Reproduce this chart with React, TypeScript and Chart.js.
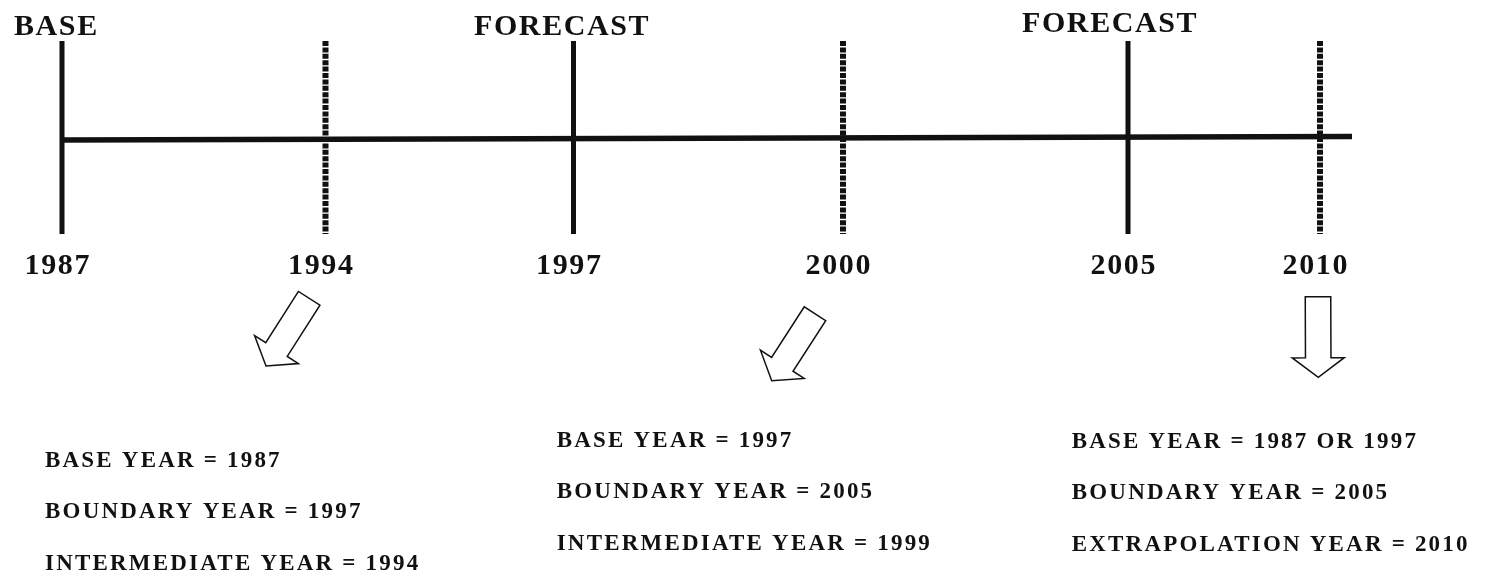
import { useEffect, useRef } from 'react';
import { Chart, registerables } from 'chart.js';

Chart.register(...registerables);

// ---- data ----
const years = ['1987', '1994', '1997', '2000', '2005', '2010'];
// position of each year along the (non-uniform) schematic timeline axis
const yearPositions = [62, 325.5, 573.5, 843, 1128, 1320];
const yearRoles = ['base', 'intermediate', 'forecast', 'intermediate', 'forecast', 'extrapolation'];
const phaseLabels = ['BASE', 'FORECAST', 'FORECAST'];
const timelineEnd = 1352;

const notesIntermediate1994 = ['BASE YEAR = 1987', 'BOUNDARY YEAR = 1997', 'INTERMEDIATE YEAR = 1994'];
const notesIntermediate1999 = ['BASE YEAR = 1997', 'BOUNDARY YEAR = 2005', 'INTERMEDIATE YEAR = 1999'];
const notesExtrapolation2010 = ['BASE YEAR = 1987 OR 1997', 'BOUNDARY YEAR = 2005', 'EXTRAPOLATION YEAR = 2010'];

// ---- layout (not data) ----
const L = {
  width: 1473,
  height: 563,
  xMin: 8,
  xMax: 1481,
  yMin: 8,
  yMax: 571,
  axisYLeft: 140,
  axisYRight: 136.5,
  markerTop: 41,
  markerBottom: 234,
  yearBaseline: 274,
  yearShift: -5,
  phaseX: [14, 474, 1022],
  phaseBaseline: [35, 35, 31.5],
  noteX: [45, 556.7, 1071.7],
  noteBaseline: [466.7, 446.7, 447.5],
  noteStep: 51.7,
  arrows: [
    { tail: [309.2, 298.3], tip: [266, 366] },
    { tail: [815, 313.7], tip: [771.7, 380.7] },
    { tail: [1318, 296.7], tip: [1318.3, 377.3] },
  ],
  shaftW: 25.5,
  headW: 52,
  headLen: 19.5,
};

const INK = '#111111';
const SERIF = '"Liberation Serif", "Times New Roman", serif';

function drawSpaced(ctx: CanvasRenderingContext2D, text: string, x: number, y: number, spacing: number, center: boolean) {
  ctx.letterSpacing = spacing + 'px';
  let sx = x;
  if (center) {
    const w = ctx.measureText(text).width - spacing;
    sx = x - w / 2;
  }
  ctx.textAlign = 'left';
  ctx.fillText(text, sx, y);
  ctx.letterSpacing = '0px';
}

const annotationPlugin = {
  id: 'timelineAnnotations',
  afterDatasetsDraw(chart: any) {
    const ctx: CanvasRenderingContext2D = chart.ctx;
    const xs = chart.scales.x;
    const ys = chart.scales.y;
    const px = (v: number) => xs.getPixelForValue(v);
    const py = (v: number) => ys.getPixelForValue(v);
    ctx.save();
    ctx.fillStyle = INK;
    ctx.textBaseline = 'alphabetic';

    // phase headers
    ctx.font = `bold 30px ${SERIF}`;
    phaseLabels.forEach((t, i) => {
      drawSpaced(ctx, t, px(L.phaseX[i]), py(L.phaseBaseline[i]), 1.6, false);
    });

    // year labels
    ctx.font = `bold 30px ${SERIF}`;
    years.forEach((t, i) => {
      drawSpaced(ctx, t, px(yearPositions[i] + L.yearShift), py(L.yearBaseline), 1.7, true);
    });

    // notes
    ctx.font = `bold 23px ${SERIF}`;
    [notesIntermediate1994, notesIntermediate1999, notesExtrapolation2010].forEach((block, b) => {
      block.forEach((line, j) => {
        drawSpaced(ctx, line, px(L.noteX[b]), py(L.noteBaseline[b] + j * L.noteStep), 2.2, false);
      });
    });

    // hollow arrows
    ctx.strokeStyle = INK;
    ctx.lineWidth = 1.5;
    ctx.lineJoin = 'miter';
    L.arrows.forEach((a) => {
      const tx = px(a.tail[0]), ty = py(a.tail[1]);
      const hx = px(a.tip[0]), hy = py(a.tip[1]);
      const len = Math.hypot(hx - tx, hy - ty);
      const dx = (hx - tx) / len, dy = (hy - ty) / len;
      const nx = -dy, ny = dx;
      const bx = hx - dx * L.headLen, by = hy - dy * L.headLen;
      const s = L.shaftW / 2, h = L.headW / 2;
      ctx.beginPath();
      ctx.moveTo(tx + nx * s, ty + ny * s);
      ctx.lineTo(bx + nx * s, by + ny * s);
      ctx.lineTo(bx + nx * h, by + ny * h);
      ctx.lineTo(hx, hy);
      ctx.lineTo(bx - nx * h, by - ny * h);
      ctx.lineTo(bx - nx * s, by - ny * s);
      ctx.lineTo(tx - nx * s, ty - ny * s);
      ctx.closePath();
      ctx.stroke();
    });
    ctx.restore();
  },
};

export default function App() {
  const ref = useRef<HTMLCanvasElement | null>(null);

  useEffect(() => {
    if (!ref.current) return;
    const markerSets = years.map((y, i) => {
      const dashed = yearRoles[i] === 'intermediate' || yearRoles[i] === 'extrapolation';
      return {
        label: y,
        data: [
          { x: yearPositions[i], y: L.markerTop },
          { x: yearPositions[i], y: L.markerBottom },
        ],
        borderColor: INK,
        borderWidth: dashed ? 6 : 5,
        borderDash: dashed ? [5, 1.4] : [],
        borderCapStyle: 'butt',
        pointRadius: 0,
        showLine: true,
        fill: false,
      };
    });
    const timeline = {
      label: 'timeline',
      data: [
        { x: yearPositions[0], y: L.axisYLeft },
        { x: timelineEnd, y: L.axisYRight },
      ],
      borderColor: INK,
      borderWidth: 5.5,
      borderCapStyle: 'butt',
      pointRadius: 0,
      showLine: true,
      fill: false,
    };
    const chart = new Chart(ref.current, {
      type: 'scatter',
      data: { datasets: [...markerSets, timeline] as any },
      options: {
        animation: false,
        responsive: false,
        events: [],
        layout: { padding: 0 },
        plugins: { legend: { display: false }, tooltip: { enabled: false } },
        scales: {
          x: { type: 'linear', min: L.xMin, max: L.xMax, display: false },
          y: { type: 'linear', min: L.yMin, max: L.yMax, reverse: true, display: false },
        },
      },
      plugins: [annotationPlugin],
    });
    return () => chart.destroy();
  }, []);

  return (
    <div style={{ width: L.width, height: L.height }}>
      <canvas ref={ref} width={L.width} height={L.height} />
    </div>
  );
}
